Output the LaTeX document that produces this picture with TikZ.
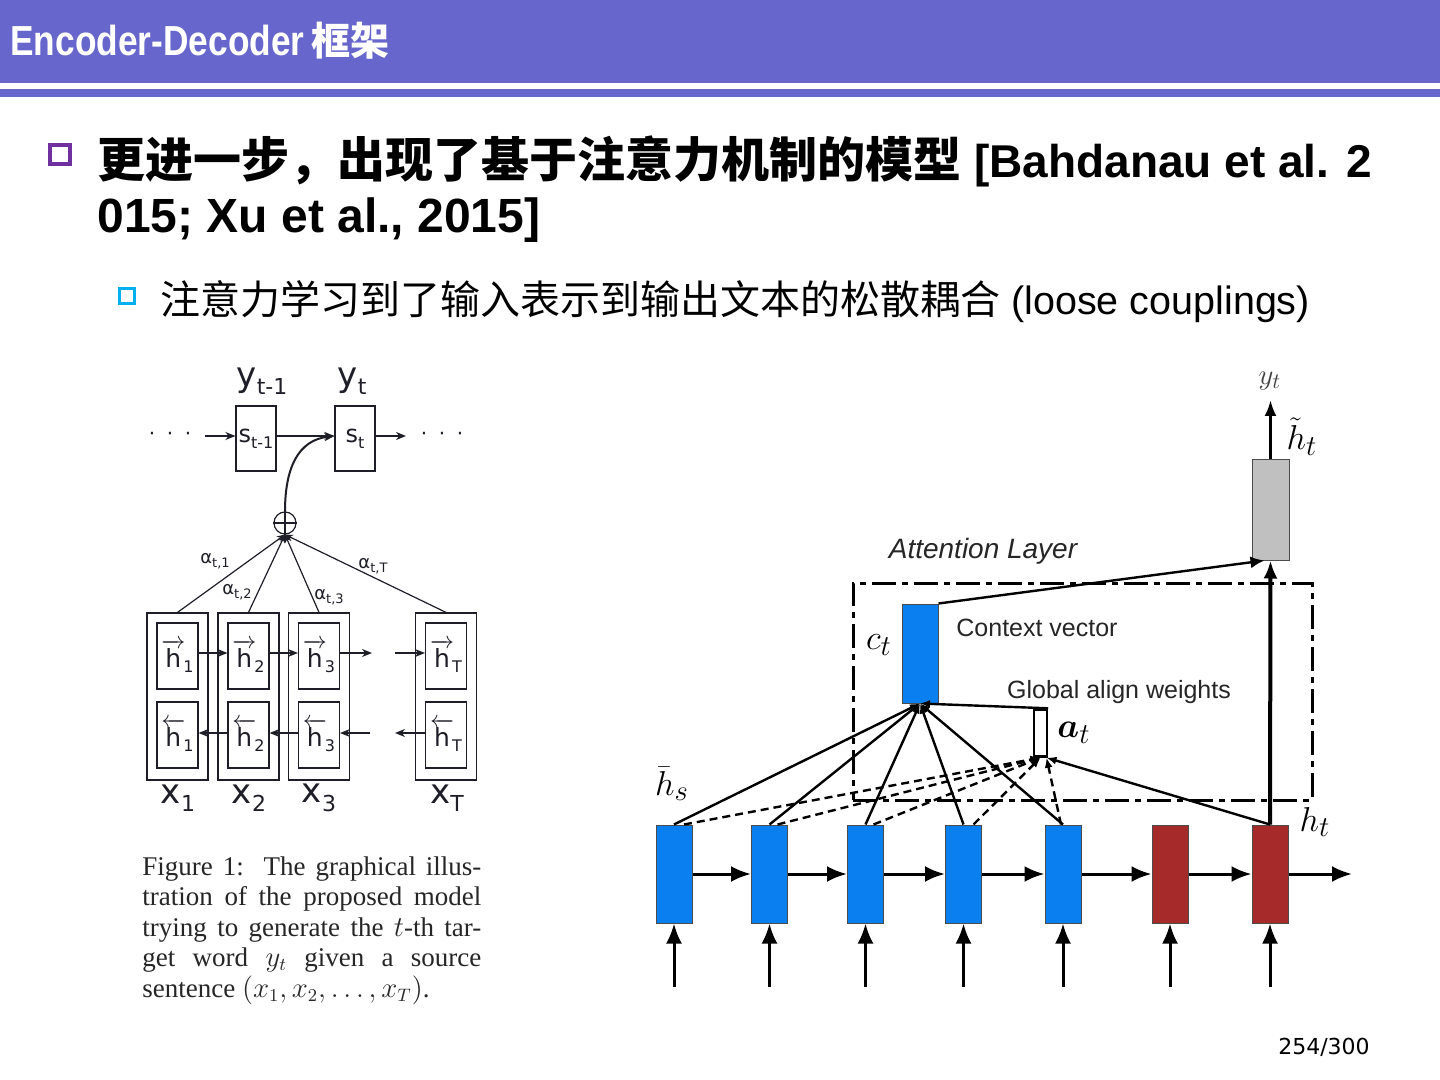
\documentclass[tikz,border=0pt]{standalone}
\usepackage{fontspec}
\usepackage{amsmath,bm}
\usetikzlibrary{arrows.meta}
\setmainfont{Liberation Sans}
\newfontfamily\cjk{Noto Sans CJK SC}
\newfontfamily\titlefont[FakeStretch=0.84]{Liberation Sans}
\newfontfamily\dejavu{DejaVu Sans}
\newfontfamily\serifx{Liberation Serif}
\definecolor{titlebar}{RGB}{102,102,204}
\definecolor{bulpurple}{RGB}{112,48,160}
\definecolor{bulcyan}{RGB}{0,176,240}
\definecolor{encblue}{RGB}{10,128,240}
\definecolor{decred}{RGB}{166,42,42}
\definecolor{outgray}{RGB}{192,192,192}
\definecolor{figink}{RGB}{30,30,40}
\newcommand{\hfw}[1]{$\overrightarrow{\mbox{h}}$\kern-1pt\raisebox{-0.35ex}{\fontsize{8}{8}\selectfont #1}}
\newcommand{\hbw}[1]{$\overleftarrow{\mbox{h}}$\kern-1pt\raisebox{-0.35ex}{\fontsize{8}{8}\selectfont #1}}
\newcommand{\alab}[1]{α\raisebox{-0.4ex}{\fontsize{6.5}{6.5}\selectfont #1}}
\begin{document}
\begin{tikzpicture}[x=0.5pt,y=-0.5pt,
  sbox/.style={draw=figink, line width=0.6pt, minimum width=20pt, minimum height=32.5pt, inner sep=0, font=\dejavu\fontsize{12}{12}\selectfont, text=figink},
  obox/.style={draw=figink, line width=0.6pt, minimum width=30.5pt, minimum height=83.5pt, inner sep=0},
  ibox/.style={draw=figink, line width=0.6pt, minimum width=20.5pt, minimum height=33pt, inner sep=0, font=\dejavu\fontsize{12.5}{12.5}\selectfont, text=figink},
  larr/.style={line width=1pt, draw=figink, -{Stealth[length=5pt,width=4pt]}},
  lline/.style={line width=0.6pt, draw=figink, -{Stealth[length=4pt,width=3.5pt]}},
  flab/.style={font=\dejavu\fontsize{17}{17}\selectfont, text=figink, inner sep=0},
  alabel/.style={font=\dejavu\fontsize{9}{9}\selectfont, text=figink, inner sep=0},
  capline/.style={anchor=base west, inner sep=0, font=\serifx\fontsize{13.5}{15}\selectfont, text=black!85},
  ebox/.style={draw=black!70, fill=encblue, line width=0.5pt, minimum width=18pt, minimum height=49pt, inner sep=0},
  dbox/.style={draw=black!70, fill=decred, line width=0.5pt, minimum width=18pt, minimum height=49pt, inner sep=0},
  rarr/.style={line width=1.5pt, -{Latex[length=10pt,width=8pt]}},
  conv/.style={line width=1.2pt, -{Latex[length=5pt,width=4pt]}},
  dconv/.style={line width=1.2pt, dash pattern=on 4pt off 2.5pt, -{Latex[length=5pt,width=4pt]}},
  mlab/.style={font=\fontsize{19}{19}\selectfont, inner sep=0},
  slab/.style={font=\fontsize{12.5}{12.5}\selectfont, text=black!85, inner sep=0}
]
\useasboundingbox (0,0) rectangle (1440,1080);
\fill[white] (0,0) rectangle (1440,1080);
% title bar
\fill[titlebar] (0,0) rectangle (1440,83);
\fill[titlebar] (0,89) rectangle (1440,97);
\node[anchor=base west, inner sep=0, text=white, font=\titlefont\bfseries\fontsize{21}{22}\selectfont] (title) at (10,56) {Encoder-Decoder\,{\cjk\bfseries\fontsize{19.5}{20}\selectfont 框架}};
% bullets
\draw[bulpurple, line width=2pt] (50,145) rectangle (70,164);
\node[anchor=base west, inner sep=0, font=\fontsize{23}{24}\selectfont\bfseries] (b1a) at (97,178) {{\cjk\bfseries\fontsize{24}{24}\selectfont 更进一步，出现了基于注意力机制的模型} [Bahdanau et al. 2};
\node[anchor=base west, inner sep=0, font=\fontsize{24}{24}\selectfont\bfseries] (b1b) at (97,233) {015; Xu et al., 2015]};
\draw[bulcyan, line width=1.5pt] (119,289) rectangle (134,304);
\node[anchor=base west, inner sep=0, font=\fontsize{19.75}{20}\selectfont] (b2) at (160,315) {{\cjk\fontsize{20}{20}\selectfont 注意力学习到了输入表示到输出文本的松散耦合} (loose couplings)};
\node[font=\dejavu\fontsize{11}{12}\selectfont] (pg) at (1324,1047) {254/300};

% ===== left figure =====
\node[flab] (ytm1) at (262,381) {y\raisebox{-0.45ex}{\fontsize{11}{11}\selectfont t-1}};
\node[flab] (ytl) at (352,381) {y\raisebox{-0.45ex}{\fontsize{11}{11}\selectfont t}};
\node[sbox] (stm1) at (256,438.5) {s\raisebox{-0.45ex}{\fontsize{8}{8}\selectfont t-1}};
\node[sbox] (st) at (355,438.5) {s\raisebox{-0.45ex}{\fontsize{8}{8}\selectfont t}};
\node[font=\dejavu\fontsize{10}{10}\selectfont, text=figink, inner sep=0] (dotsl) at (170,436) {·\hspace{5.8pt}·\hspace{5.8pt}·};
\node[font=\dejavu\fontsize{10}{10}\selectfont, text=figink, inner sep=0] (dotsr) at (442,436) {·\hspace{5.8pt}·\hspace{5.8pt}·};
\coordinate (inl) at (205,436);
\coordinate (outr) at (406,436);
\draw[larr] (inl) -- (stm1.west |- 0,436);
\draw[larr] (stm1.east |- 0,436) -- (st.west |- 0,436);
\draw[larr] (st.east |- 0,436) -- (outr);
\node[circle, draw=figink, line width=0.6pt, minimum size=11pt, inner sep=0] (plus) at (285,523) {};
\draw[figink, line width=0.6pt] (plus.north) -- (plus.south) (plus.west) -- (plus.east);
\draw[larr] (plus.north) .. controls (285,468) and (298,440) .. (st.west |- 0,436);

\node[obox] (o1) at (177.5,696.5) {};
\node[obox] (o2) at (248.5,696.5) {};
\node[obox] (o3) at (319,696.5) {};
\node[obox] (oT) at (446,696.5) {};
\node[ibox] (f1) at (177.5,656) {\hfw{1}};
\node[ibox] (f2) at (248.5,656) {\hfw{2}};
\node[ibox] (f3) at (319,656) {\hfw{3}};
\node[ibox] (fT) at (446,656) {\hfw{T}};
\node[ibox] (k1) at (177.5,735) {\hbw{1}};
\node[ibox] (k2) at (248.5,735) {\hbw{2}};
\node[ibox] (k3) at (319,735) {\hbw{3}};
\node[ibox] (kT) at (446,735) {\hbw{T}};
\coordinate (fstub) at (372,653);
\coordinate (fin) at (395,653);
\coordinate (bstub) at (370,733);
\coordinate (bout) at (395,733);
\draw[larr] (f1.east |- 0,653) -- (f2.west |- 0,653);
\draw[larr] (f2.east |- 0,653) -- (f3.west |- 0,653);
\draw[larr] (f3.east |- 0,653) -- (fstub);
\draw[larr] (fin) -- (fT.west |- 0,653);
\draw[larr] (k2.west |- 0,733) -- (k1.east |- 0,733);
\draw[larr] (k3.west |- 0,733) -- (k2.east |- 0,733);
\draw[larr] (bstub) -- (k3.east |- 0,733);
\draw[larr] (kT.west |- 0,733) -- (bout);

\draw[lline] (o1.north) -- (plus.south);
\draw[lline] (o2.north) -- (plus.south);
\draw[lline] (o3.north) -- (plus.south);
\draw[lline] (oT.north) -- (plus.south);
\node[alabel] (a1) at (215,561) {\alab{t,1}};
\node[alabel] (a2) at (237,592) {\alab{t,2}};
\node[alabel] (a3) at (329,597) {\alab{t,3}};
\node[alabel] (aT) at (373,566) {\alab{t,T}};

\node[flab] (x1) at (178,798) {x\raisebox{-0.45ex}{\fontsize{11}{11}\selectfont 1}};
\node[flab] (x2) at (249,798) {x\raisebox{-0.45ex}{\fontsize{11}{11}\selectfont 2}};
\node[flab] (x3) at (319,798) {x\raisebox{-0.45ex}{\fontsize{11}{11}\selectfont 3}};
\node[flab] (xT) at (447,798) {x\raisebox{-0.45ex}{\fontsize{11}{11}\selectfont T}};

% caption
\node[capline] (cap1) at (142,875) {\makebox[169.5pt][s]{Figure 1:\ \ The graphical illus-}};
\node[capline] (cap2) at (142,905.5) {\makebox[169.5pt][s]{tration of the proposed model}};
\node[capline] (cap3) at (142,936) {\makebox[169.5pt][s]{trying to generate the $t$-th tar-}};
\node[capline] (cap4) at (142,966.5) {\makebox[169.5pt][s]{get word $y_t$ given a source}};
\node[capline] (cap5) at (142,997) {sentence $(x_1, x_2, \ldots, x_T)$.};

% ===== right figure =====
\node[draw, line width=1.5pt, dash pattern=on 12pt off 3pt on 3pt off 3pt, minimum width=229.5pt, minimum height=108.5pt, inner sep=0] (att) at (1082.5,691.5) {};
\node[font=\itshape\fontsize{14}{14}\selectfont, text=black!85, inner sep=0] (attlab) at (983,551) {Attention Layer};

\node[ebox] (e1) at (674,874) {};
\node[ebox] (e2) at (769.5,874) {};
\node[ebox] (e3) at (865.5,874) {};
\node[ebox] (e4) at (963.5,874) {};
\node[ebox] (e5) at (1063,874) {};
\node[dbox] (d1) at (1170,874) {};
\node[dbox] (d2) at (1270,874) {};
\node[draw=black!70, fill=outgray, line width=0.5pt, minimum width=18.5pt, minimum height=50pt, inner sep=0] (g) at (1270.5,510) {};
\node[ebox, minimum height=49.5pt] (ct) at (920,653.5) {};
\node[draw, line width=1.2pt, minimum width=6.5pt, minimum height=23.5pt, inner sep=0] (atb) at (1040.5,733) {};

\foreach \n/\x in {1/674, 2/769.5, 3/865.5, 4/963.5, 5/1063} {
  \coordinate (in\n) at (\x,987);
  \draw[rarr] (in\n) -- (e\n.south);
}
\coordinate (in6) at (1170,987);
\coordinate (in7) at (1270,987);
\draw[rarr] (in6) -- (d1.south);
\draw[rarr] (in7) -- (d2.south);
\draw[rarr] (e1.east) -- (e2.west);
\draw[rarr] (e2.east) -- (e3.west);
\draw[rarr] (e3.east) -- (e4.west);
\draw[rarr] (e4.east) -- (e5.west);
\draw[rarr] (e5.east) -- (d1.west);
\draw[rarr] (d1.east) -- (d2.west);
\coordinate (outend) at (1352,874);
\draw[rarr] (d2.east) -- (outend);

% converging to context vector
\draw[conv] (e1.north) -- (ct.south);
\draw[conv] (e2.north) -- (ct.south);
\draw[conv] (e3.north) -- (ct.south);
\draw[conv] (e4.north) -- (ct.south);
\draw[conv] (e5.north) -- (ct.south);
% dashed to align weights
\draw[dconv] ([xshift=5pt]e1.north) -- (atb.south);
\draw[dconv] ([xshift=4pt]e2.north) -- (atb.south);
\draw[dconv] ([xshift=4pt]e3.north) -- (atb.south);
\draw[dconv] ([xshift=5pt]e4.north) -- (atb.south);
\draw[dconv] ([xshift=-1pt]e5.north) -- ([xshift=3pt]atb.south);
\draw[conv] (d2.north) -- ([xshift=3pt]atb.south);
\draw[conv] (atb.north east) -- (ct.south);
% to attentional hidden state
\draw[line width=1.2pt, -{Latex[length=7pt,width=6pt]}] (ct.north east) -- ([xshift=-3pt]g.south);
\draw[line width=2pt, -{Latex[length=9pt,width=7pt]}] (d2.north) -- (g.south);
\coordinate (ytop) at (1270.5,400);
\draw[line width=1.5pt, -{Latex[length=8pt,width=6pt]}] (g.north) -- (ytop);

\node[mlab, font=\fontsize{15}{15}\selectfont, text=black!75] (ytr) at (1270,381) {$y_t$};
\node[mlab] (htil) at (1302,437) {$\tilde{h}_t$};
\node[mlab] (hbar) at (672,784) {$\bar{h}_s$};
\node[mlab] (ht) at (1315,822) {$h_t$};
\node[mlab] (ctl) at (879,645) {$c_t$};
\node[mlab] (atl) at (1074,733) {$\bm{a}_t$};
\node[slab] (cvl) at (1037,628) {Context vector};
\node[slab] (gawl) at (1119,692) {Global align weights};
\end{tikzpicture}
\end{document}
